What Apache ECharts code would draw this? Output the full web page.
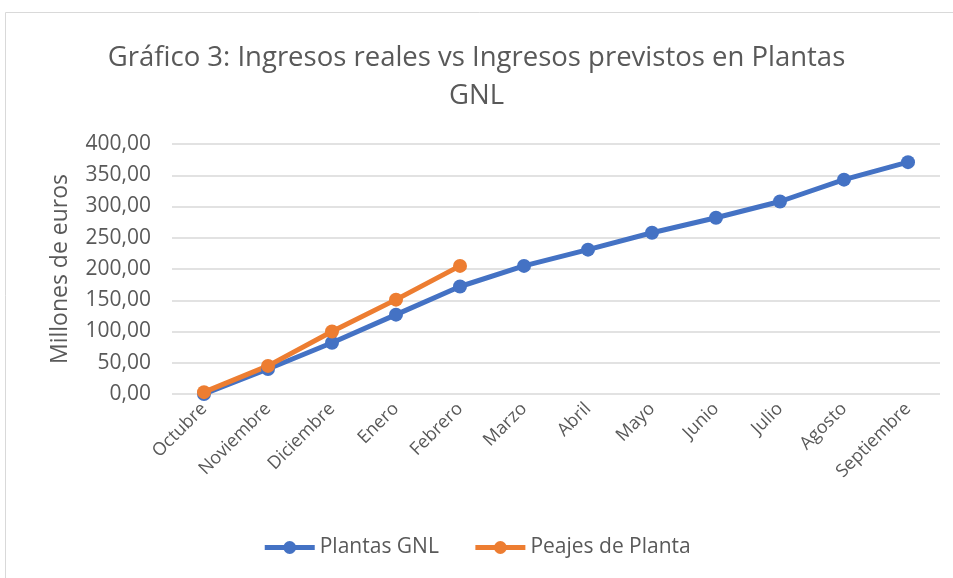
<!DOCTYPE html>
<html>
<head>
<meta charset="utf-8">
<script src="https://cdn.jsdelivr.net/npm/echarts@6/dist/echarts.min.js"></script>
<style>
  html, body { margin: 0; padding: 0; background: #fff; }
  #chart { width: 953px; height: 578px; }
</style>
</head>
<body>
<div id="chart"></div>
<script>
var meses = ['Octubre', 'Noviembre', 'Diciembre', 'Enero', 'Febrero', 'Marzo', 'Abril', 'Mayo', 'Junio', 'Julio', 'Agosto', 'Septiembre']
var plantasGNL = [0, 40, 82, 127, 172, 205, 231, 258, 282, 308, 343, 371]
var peajesPlanta = [3, 45, 100, 151, 205]
var yTicks = [0, 50, 100, 150, 200, 250, 300, 350, 400]

var fuente = 'Open Sans'
var gris = '#595959'

var chart = echarts.init(document.getElementById('chart'))
chart.setOption({
  backgroundColor: '#fff',
  animation: false,
  title: {
    text: 'Gráfico 3: Ingresos reales vs Ingresos previstos en Plantas\nGNL',
    left: 'center',
    top: 34,
    textStyle: {
      color: gris,
      fontFamily: fuente,
      fontWeight: 'normal',
      fontSize: 27.5,
      lineHeight: 38
    }
  },
  graphic: [{
    type: 'rect',
    shape: { x: 5.5, y: 12.5, width: 960, height: 580 },
    style: { fill: null, stroke: '#d9d9d9', lineWidth: 1 }
  }],
  legend: {
    bottom: 15,
    left: 'center',
    itemWidth: 50,
    itemHeight: 16,
    itemGap: 34,
    lineStyle: { width: 5 },
    textStyle: { color: gris, fontFamily: fuente, fontSize: 21 },
    data: ['Plantas GNL', 'Peajes de Planta']
  },
  grid: {
    left: 172,
    right: 13,
    top: 144,
    bottom: 184
  },
  xAxis: {
    type: 'category',
    data: meses,
    boundaryGap: true,
    axisLine: { show: false },
    axisTick: { show: false },
    axisLabel: {
      rotate: 45,
      color: gris,
      fontFamily: fuente,
      fontSize: 18,
      margin: 12,
      interval: 0
    }
  },
  yAxis: {
    type: 'value',
    min: yTicks[0],
    max: yTicks[yTicks.length - 1],
    interval: 50,
    name: 'Millones de euros',
    nameLocation: 'middle',
    nameGap: 100,
    nameTextStyle: { color: gris, fontFamily: fuente, fontSize: 23 },
    axisLine: { show: false },
    axisTick: { show: false },
    splitLine: { lineStyle: { color: '#d9d9d9', width: 1.5 } },
    axisLabel: {
      color: gris,
      fontFamily: fuente,
      fontSize: 21,
      margin: 21,
      formatter: function(v) {
        return v.toFixed(2).replace('.', ',')
      }
    }
  },
  series: [{
    name: 'Plantas GNL',
    type: 'line',
    data: plantasGNL,
    symbol: 'circle',
    symbolSize: 14,
    color: '#4472C4',
    lineStyle: { width: 5, color: '#4472C4' },
    itemStyle: { color: '#4472C4' }
  }, {
    name: 'Peajes de Planta',
    type: 'line',
    data: peajesPlanta,
    symbol: 'circle',
    symbolSize: 14,
    color: '#ED7D31',
    lineStyle: { width: 5, color: '#ED7D31' },
    itemStyle: { color: '#ED7D31' }
  }]
})
</script>
</body>
</html>
